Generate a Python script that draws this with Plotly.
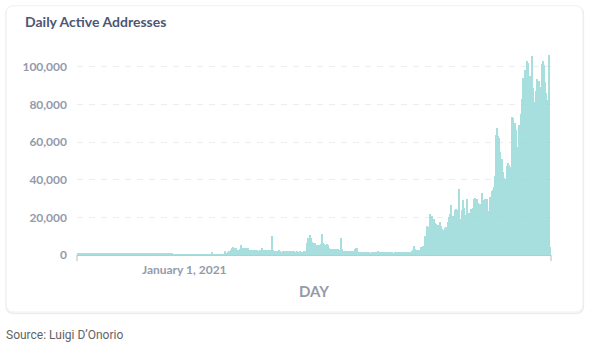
import pandas as pd
import plotly.graph_objects as go

# Daily active addresses, one value per day starting 2020-09-21
start_day = "2020-09-21"
active_addresses = [
    620, 580, 650, 700, 610, 590, 640, 680, 720, 600,
    560, 610, 690, 650, 300, 620, 700, 740, 680, 630,
    590, 650, 710, 680, 620, 580, 640, 330, 690, 720,
    660, 610, 580, 630, 700, 250, 650, 600, 640, 680,
    710, 650, 620, 590, 640, 600, 280, 660, 700, 640,
    610, 580, 630, 690, 650, 620, 600, 640, 300, 610,
    650, 700, 680, 620, 590, 560, 610, 640, 680, 650,
    260, 620, 590, 640, 700, 660, 610, 580, 630, 670,
    640, 600, 350, 620, 680, 650, 600, 570, 610, 590,
    560, 520, 480, 450, 400, 320, 280, 250, 240, 260,
    230, 250, 270, 240, 220, 260, 250, 230, 240, 270,
    250, 230, 260, 240, 250, 230, 270, 250, 240, 260,
    230, 250, 260, 240, 270, 250, 230, 260, 280,
    1600,
    300, 280, 320, 350, 300, 380, 420, 400, 450, 500, 480,
    2100,
    900, 1300, 1800,
    2200, 1900, 2400,
    3800, 4100, 3600, 3900,
    2700, 2900, 2500, 3000,
    5300,
    3400, 3700, 3200, 3800, 3500, 3300, 3600,
    2700, 2900, 2600,
    2400, 2300, 2600, 2200, 2500, 2400,
    2300, 2600, 2100, 3700, 2400, 2200, 2700, 2300, 2500, 2100, 2800, 2400, 2200,
    10000,
    2600,
    2200, 2000, 2300, 1900, 2100, 2400, 2000, 1800, 2200, 2100,
    1900, 2300, 2000, 1800, 2100, 1900, 2200, 2000, 1700, 1900,
    1800, 1700, 1900, 1600, 1800, 2000, 1700, 1800, 1900, 1600, 2200,
    6500, 8800, 8200,
    10600,
    9200,
    7000, 6400, 6100, 6600,
    5200, 5500, 5000, 5300, 4800,
    5600,
    11000,
    6200, 5800, 5500, 5900, 5300,
    3800, 3300, 3100, 3400, 2900, 3200, 3000, 2800, 3300, 3100,
    2600, 2900,
    9000,
    3200,
    2200, 2000, 2300, 1900, 2100, 2000, 1800, 2200, 1900, 2000, 2300,
    3400, 3800, 3500,
    1700, 1500, 1400, 1600, 1500, 1300, 1400, 1600, 1500, 1700,
    1500, 1400, 1300, 1500, 1600, 1400, 1500, 1300, 1400, 2100,
    1600, 1500, 1400, 1500, 1300, 1400, 1600, 1500, 1400, 1300,
    1500, 1600, 1400, 1500, 1300, 1400, 1500, 1700, 1500, 1400,
    1300, 1500, 1400, 1600, 1500, 1300, 1400, 1500, 1600, 1400,
    1500, 1700, 1900, 2600,
    4800,
    3000, 2600, 2400, 2700, 2900,
    4000, 4400, 4600, 4200,
    10000, 8000, 15500, 14800, 15000,
    22000, 19500, 20500, 19000, 19200, 17000, 16500, 15800, 16200, 17500,
    15500, 14000, 12000, 13500, 14500, 14800, 14200, 17500, 20000, 22000,
    26500, 20500, 20000, 20500, 24000, 24500, 23500, 24000, 35000, 19000,
    24000, 29000, 25000, 21000, 21500, 30000, 22000, 22500, 21500, 24500,
    24000, 25000, 30000, 30500, 29500, 30000, 27500, 25000, 27000, 23000,
    33000, 29000, 29500, 28500, 30000, 23000, 23500, 31000, 30500, 34000,
    34500, 36000, 42000, 64000, 67500, 63000, 62000, 55000, 50500, 51000,
    44000, 41000, 40500, 47500, 49000, 48000, 47000, 45000, 73500, 73000,
    69000, 70000, 66500, 57500, 53000, 69000, 65500, 75000, 83000, 94000,
    89500, 98500, 97000, 103000, 102000, 95000, 92000, 105500, 89000, 78000,
    81500, 87000, 93500, 83000, 92500, 89500, 73000, 101500, 103000, 101000,
    92000, 86000, 82500, 82000, 106500, 4500,
]
y_ticks = [0, 20000, 40000, 60000, 80000, 100000]
x_tick_day = "2021-01-01"
x_tick_text = "January 1, 2021"

days = pd.date_range(start_day, periods=len(active_addresses), freq="D")

W, H = 589, 346
L, R, T, B = 77, 38, 48.2, 91
plot_w = W - L - R
plot_h = H - T - B

def px(x):
    return (x - L) / plot_w

def py(y):
    return (H - B - y) / plot_h

TICK = "#949AAB"
TITLE = "#4C5773"

fig = go.Figure(
    go.Bar(
        x=days,
        y=active_addresses,
        marker=dict(color="#98D9D9", line=dict(width=0)),
        opacity=0.85,
        hoverinfo="x+y",
    )
)

# card outline with rounded corners
def rounded_path(x0, y0, x1, y1, r):
    rx = r / plot_w
    ry = r / plot_h
    a, b = px(x0), px(x1)
    top, bot = py(y0), py(y1)
    return (
        f"M {a + rx},{top} L {b - rx},{top} Q {b},{top} {b},{top - ry} "
        f"L {b},{bot + ry} Q {b},{bot} {b - rx},{bot} "
        f"L {a + rx},{bot} Q {a},{bot} {a},{bot + ry} "
        f"L {a},{top - ry} Q {a},{top} {a + rx},{top} Z"
    )

shapes = [
    dict(type="path", xref="paper", yref="paper", layer="below",
         path=rounded_path(6, 7, 583.5, 313.5, 8),
         line=dict(color="#EBEDF0", width=1.5), fillcolor="rgba(0,0,0,0)"),
    dict(type="path", xref="paper", yref="paper", layer="below",
         path=rounded_path(6, 6, 583, 312, 8),
         line=dict(color="#EEF0F3", width=1), fillcolor="#FFFFFF"),
    # axis end ticks
    dict(type="line", xref="paper", yref="paper", x0=0, x1=0,
         y0=0, y1=-6 / plot_h, line=dict(color="#C4C6CC", width=1.2)),
    dict(type="line", xref="paper", yref="paper", x0=1, x1=1,
         y0=0, y1=-6 / plot_h, line=dict(color="#C4C6CC", width=1.2)),
]

annotations = [
    dict(text="Daily Active Addresses", xref="paper", yref="paper",
         x=px(23), y=py(22), xanchor="left", yanchor="middle", showarrow=False,
         font=dict(family="Lato", size=14, color=TITLE, weight="bold")),
    dict(text="Source: Luigi D\u2019Onorio", xref="paper", yref="paper",
         x=px(4), y=py(335), xanchor="left", yanchor="middle", showarrow=False,
         font=dict(family="Roboto", size=12, color="#5F6368")),
]

x_lo = days[0] - pd.Timedelta(hours=12)
x_hi = days[-1] + pd.Timedelta(hours=12)

fig.update_layout(
    width=W, height=H,
    margin=dict(l=L, r=R, t=T, b=B, pad=0),
    paper_bgcolor="#FFFFFF", plot_bgcolor="rgba(0,0,0,0)",
    bargap=0,
    showlegend=False,
    font=dict(family="Lato", color=TICK),
    shapes=shapes,
    annotations=annotations,
    xaxis=dict(
        type="date", range=[x_lo, x_hi],
        tickvals=[x_tick_day], ticktext=[x_tick_text],
        tickfont=dict(family="Lato", size=12, color=TICK, weight="bold"),
        showgrid=False, zeroline=False,
        showline=True, linecolor="#C4C6CC", linewidth=1,
        ticks="", ticklabelstandoff=4,
        title=dict(text="DAY", standoff=10,
                   font=dict(family="Lato", size=15, color=TICK, weight="bold")),
        fixedrange=True,
    ),
    yaxis=dict(
        range=[0, 110000], tickvals=y_ticks, tickformat=",d",
        tickfont=dict(family="Lato", size=12, color=TICK, weight="bold"),
        showgrid=True, gridcolor="#ECEDF0", griddash="6px,6px", gridwidth=1,
        zeroline=False, showline=False, ticks="", ticklabelstandoff=9,
        fixedrange=True,
    ),
)

fig.write_html("out.html", config={"displayModeBar": False})
